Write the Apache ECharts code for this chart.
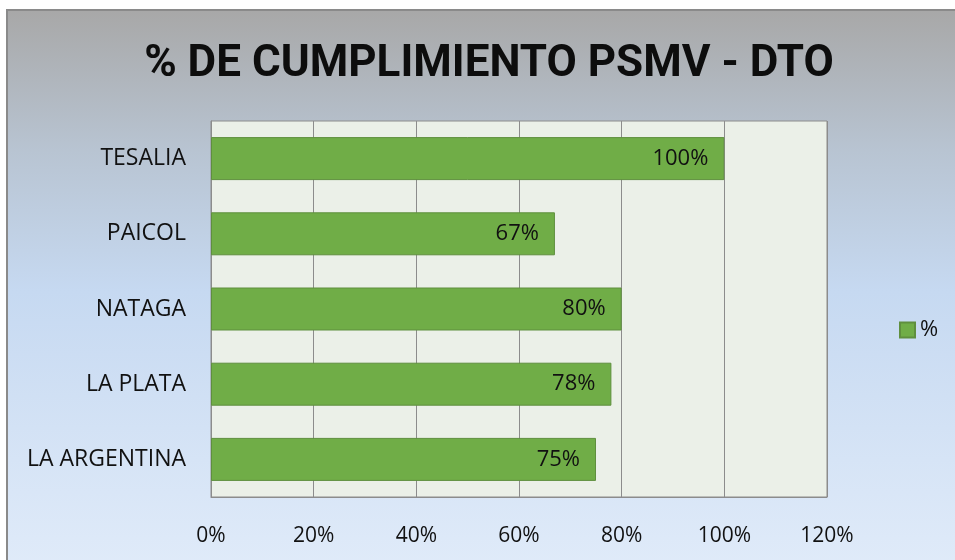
<!DOCTYPE html>
<html>
<head>
<meta charset="utf-8">
<script src="https://cdn.jsdelivr.net/npm/echarts@6/dist/echarts.min.js"></script>
<style>
  * { margin: 0; padding: 0; }
  body { background: #fff; width: 955px; height: 560px; overflow: hidden; position: relative; }
  .frame {
    position: absolute; left: 6px; top: 9px; width: 955px; height: 560px;
    border-top: 2px solid #8a8a8a; border-left: 2px solid #8a8a8a;
    background: linear-gradient(to bottom, #a8a8a8 0%, #b8c4d2 25%, #c6d9f1 50%, #d6e4f6 80%, #e0ebf9 100%);
  }
  #chart { position: absolute; left: 0; top: 0; width: 955px; height: 560px; }
</style>
</head>
<body>
<div class="frame"></div>
<div id="chart"></div>
<script>
// datos del grafico
var categorias = ['TESALIA', 'PAICOL', 'NATAGA', 'LA PLATA', 'LA ARGENTINA'];
var cumplimiento = [1.00, 0.67, 0.80, 0.78, 0.75];
var nombreSerie = '%';

var chart = echarts.init(document.getElementById('chart'), null, { renderer: 'canvas' });
var fuente = '"Open Sans", "Noto Sans", sans-serif';

chart.setOption({
  backgroundColor: 'transparent',
  animation: false,
  title: {
    text: '% DE CUMPLIMIENTO PSMV - DTO',
    left: 484,
    top: 38,
    textAlign: 'center',
    textStyle: {
      fontFamily: 'Roboto, "Open Sans", sans-serif',
      fontWeight: 'bold',
      fontSize: 44,
      color: '#0d0d0d'
    }
  },
  legend: {
    left: 894,
    top: 314,
    orient: 'vertical',
    icon: 'rect',
    itemWidth: 15,
    itemHeight: 15,
    itemGap: 6,
    textStyle: { fontFamily: fuente, fontSize: 22, color: '#111' },
    data: [nombreSerie]
  },
  grid: {
    left: 211,
    right: 128,
    top: 121,
    bottom: 63,
    show: true,
    backgroundColor: '#ebf0e8',
    borderColor: '#8c8c8c',
    borderWidth: 1
  },
  xAxis: {
    type: 'value',
    min: 0,
    max: 1.2,
    interval: 0.2,
    axisLine: { show: true, lineStyle: { color: '#8c8c8c' } },
    axisTick: { show: false },
    splitLine: { show: true, lineStyle: { color: '#8c8c8c', width: 1 } },
    axisLabel: {
      margin: 29,
      fontFamily: fuente,
      fontSize: 21,
      color: '#111',
      formatter: function (v) { return Math.round(v * 100) + '%'; }
    }
  },
  yAxis: {
    type: 'category',
    inverse: true,
    data: categorias,
    axisLine: { show: true, lineStyle: { color: '#8c8c8c' } },
    axisTick: { show: false },
    splitLine: { show: false },
    axisLabel: { margin: 25, fontFamily: fuente, fontSize: 23, color: '#111' }
  },
  series: [{
    name: nombreSerie,
    type: 'bar',
    data: cumplimiento,
    barWidth: 43,
    itemStyle: { color: '#70ad47', borderColor: '#5f8f3e', borderWidth: 1 },
    label: {
      show: true,
      position: 'insideRight',
      distance: 16,
      fontFamily: fuente,
      fontSize: 22,
      color: '#111',
      formatter: function (p) { return Math.round(p.value * 100) + '%'; }
    }
  }]
});
</script>
</body>
</html>
